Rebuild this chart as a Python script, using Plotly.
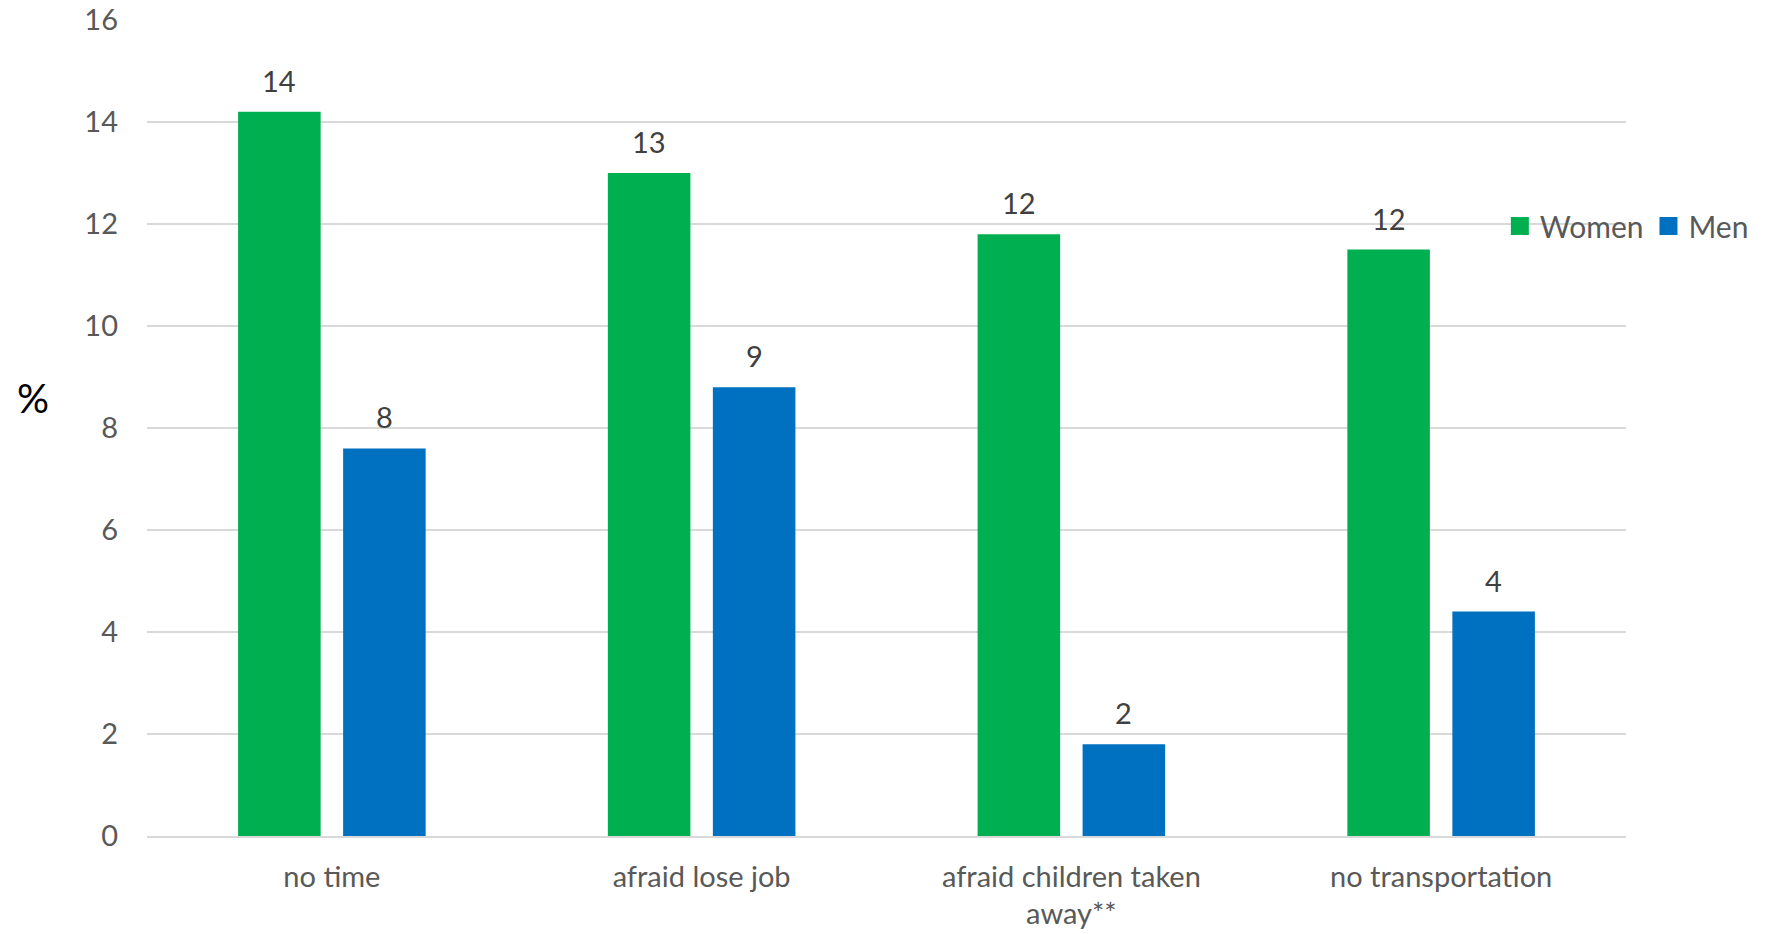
import plotly.graph_objects as go

categories = ["no time", "afraid lose job", "afraid children taken<br>away**", "no transportation"]
women = [14.2, 13.0, 11.8, 11.5]
men = [7.6, 8.8, 1.8, 4.4]
y_ticks = [0, 2, 4, 6, 8, 10, 12, 14, 16]

series = [("Women", women, "#00B050"), ("Men", men, "#0070C0")]

FONT = "Lato"
W, H = 1769, 934
ML, MR, MT, MB = 147, 143, 20, 98
BARGAP, BARGROUPGAP = 0.432, 0.214

fig = go.Figure()
for name, vals, col in series:
    fig.add_trace(go.Bar(
        x=categories, y=vals, name=name, marker=dict(color=col, line=dict(width=0)),
        showlegend=False, hoverinfo="x+y",
    ))
# legend proxies with larger square symbols
for name, vals, col in series:
    fig.add_trace(go.Scatter(
        x=[None], y=[None], mode="markers", name=name,
        marker=dict(symbol="square", size=16, color=col, line=dict(color=col, width=2)),
    ))

# data labels above bars
plot_w = W - ML - MR
slot = plot_w / len(categories) * (1 - BARGAP) / len(series)
for i, (name, vals, col) in enumerate(series):
    xshift = (i - (len(series) - 1) / 2) * slot
    for c, v in zip(categories, vals):
        fig.add_annotation(
            x=c, y=v, text=f"{v:.0f}", showarrow=False,
            xshift=xshift, yshift=12, yanchor="bottom",
            font=dict(family=FONT, size=29, color="#404040"),
        )

fig.update_layout(
    width=W, height=H,
    margin=dict(l=ML, r=MR, t=MT, b=MB, autoexpand=False),
    paper_bgcolor="white", plot_bgcolor="white",
    barmode="group", bargap=BARGAP, bargroupgap=BARGROUPGAP,
    font=dict(family=FONT, color="#595959"),
    legend=dict(
        orientation="h", x=0.9147, y=0.7475, xanchor="left", yanchor="middle",
        bgcolor="rgba(0,0,0,0)", font=dict(family=FONT, size=30, color="#595959"),
        itemwidth=30, traceorder="normal",
    ),
    showlegend=True,
)
fig.update_xaxes(
    showgrid=False, showline=True, linecolor="#D9D9D9", linewidth=1.5,
    tickfont=dict(family=FONT, size=29, color="#595959"), ticks="",
    ticklabelstandoff=14, automargin=False,
)
fig.update_yaxes(
    range=[0, 16], tickvals=y_ticks, showgrid=True, gridcolor="#D9D9D9", gridwidth=1.5,
    zeroline=False, showline=False, ticks="", ticklabelstandoff=28, automargin=False,
    tickfont=dict(family=FONT, size=29, color="#595959"),
)
fig.add_annotation(
    text="%", xref="paper", yref="paper", x=-0.089, y=0.537, showarrow=False,
    font=dict(family=FONT, size=40, color="black"),
)
fig.write_html("out.html")
